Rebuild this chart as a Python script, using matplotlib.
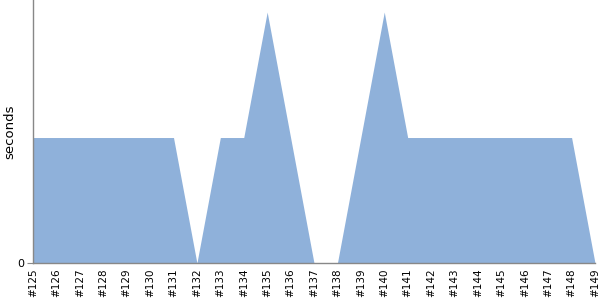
import matplotlib
matplotlib.use("Agg")
import matplotlib.pyplot as plt

labels = ["#%d" % n for n in range(125, 150)]
values = [1, 1, 1, 1, 1, 1, 1, 0, 1, 1, 2, 1, 0, 0, 1, 2, 1, 1, 1, 1, 1, 1, 1, 1, 0]

fig = plt.figure(figsize=(6, 3), dpi=100)
ax = fig.add_axes([33/600, 1 - 263/300, (595 - 33)/600, 263/300])
x = list(range(len(values)))
ax.fill_between(x, values, 0, color="#8fb1da", linewidth=0)
ax.set_xlim(0, len(values) - 1)
ax.set_ylim(0, 2.096)
ax.set_xticks(x)
ax.set_xticklabels(labels, rotation=90, fontsize=7.5)
ax.tick_params(axis="x", length=0, pad=4)
ax.set_yticks([0])
ax.set_yticklabels(["0"], fontsize=8)
ax.tick_params(axis="y", length=4, color="#888888", pad=2)
ax.set_ylabel("seconds", fontsize=9.5)
ax.yaxis.set_label_coords(-(33 - 16) / 562, 0.5)
for s in ["top", "right"]:
    ax.spines[s].set_visible(False)
for s in ["left", "bottom"]:
    ax.spines[s].set_color("#888888")
    ax.spines[s].set_linewidth(1)
fig.savefig("out.png", dpi=100)
